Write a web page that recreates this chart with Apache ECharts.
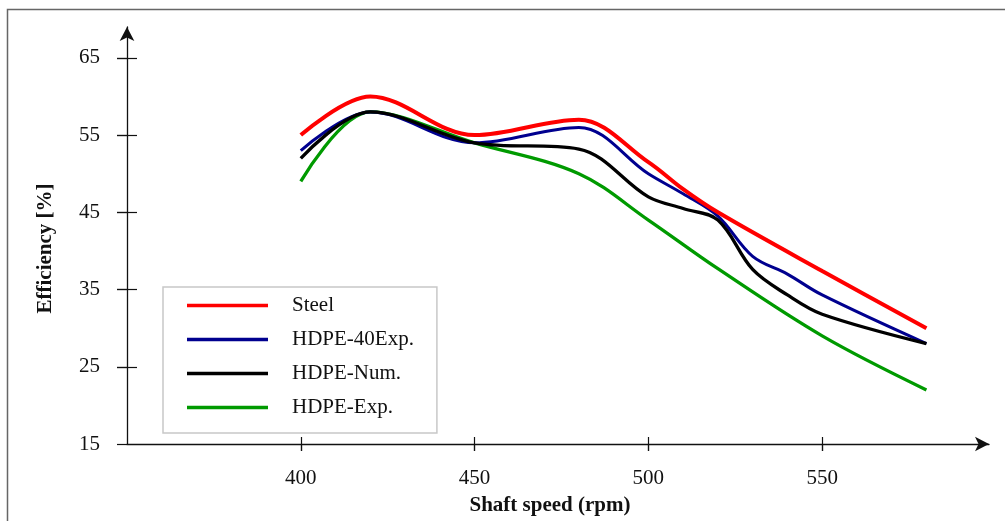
<!DOCTYPE html>
<html>
<head>
<meta charset="utf-8">
<script src="https://cdn.jsdelivr.net/npm/echarts@6/dist/echarts.min.js"></script>
<style>
  html, body { margin: 0; padding: 0; background: #fff; }
  #chart { width: 1005px; height: 521px; }
</style>
</head>
<body>
<div id="chart"></div>
<script>
// values
const steelRpm = [400, 420, 450, 480, 500, 510, 520, 550, 580];
const steelEff = [55, 60, 55, 57, 51.5, 48, 45, 37.4, 30];

const hdpe40Rpm = [400, 420, 450, 480, 500, 510, 520, 530, 540, 550, 580];
const hdpe40Eff = [53, 58, 54, 56, 50, 47.4, 44.5, 39.3, 37, 34.3, 28];

const hdpeNumRpm = [400, 420, 450, 480, 500, 510, 520, 530, 540, 550, 580];
const hdpeNumEff = [52, 58, 54, 53.2, 47, 45.5, 44, 37.6, 34.3, 31.8, 28];

const hdpeExpRpm = [400, 420, 450, 480, 500, 520, 550, 580];
const hdpeExpEff = [49, 58, 54, 50, 44, 37.7, 29, 22];

const xTicks = [400, 450, 500, 550];
const yTicks = [15, 25, 35, 45, 55, 65];

const font = '"Liberation Serif", "Times New Roman", serif';

function pairs(xs, ys) {
  return xs.map((x, i) => [x, ys[i]]);
}

const chart = echarts.init(document.getElementById('chart'));

const tickStyle = { color: '#111', width: 1.2 };

chart.setOption({
  animation: false,
  textStyle: { fontFamily: font },
  graphic: [
    {
      type: 'rect',
      shape: { x: 7.5, y: 9.5, width: 1010, height: 600 },
      style: { fill: 'none', stroke: '#666', lineWidth: 1.5 },
      silent: true
    }
  ],
  grid: { left: 127, right: 16, top: 27, bottom: 74 },
  legend: {
    orient: 'vertical',
    left: 163,
    top: 287,
    padding: [8, 23, 15, 24],
    icon: 'rect',
    itemWidth: 81,
    itemHeight: 3.6,
    itemGap: 13,
    borderColor: '#c8c8c8',
    borderWidth: 1.5,
    textStyle: { fontFamily: font, fontSize: 21, color: '#111', padding: [0, 0, 0, 19] },
    data: ['Steel', 'HDPE-40Exp.', 'HDPE-Num.', 'HDPE-Exp.']
  },
  xAxis: [
    {
      type: 'value',
      min: 350,
      max: 598,
      position: 'bottom',
      name: 'Shaft speed (rpm)',
      nameLocation: 'middle',
      nameGap: 51,
      nameTextStyle: { fontFamily: font, fontSize: 21, fontWeight: 'bold', color: '#111', padding: [0, 16, 0, 0] },
      splitLine: { show: false },
      axisLine: {
        show: true,
        onZero: false,
        symbol: ['none', 'arrow'],
        symbolSize: [11, 14],
        lineStyle: { color: '#111', width: 1.3 }
      },
      axisTick: { show: true, inside: false, length: 7, customValues: xTicks, lineStyle: tickStyle },
      axisLabel: { customValues: xTicks, margin: 24, fontFamily: font, fontSize: 21, color: '#111' }
    },
    {
      // tick-only copy shifted up so the ticks cross the axis line
      type: 'value',
      min: 350,
      max: 598,
      position: 'bottom',
      offset: -7,
      splitLine: { show: false },
      axisLine: { show: false, onZero: false },
      axisTick: { show: true, inside: false, length: 14, customValues: xTicks, lineStyle: tickStyle },
      axisLabel: { show: false }
    }
  ],
  yAxis: [
    {
      type: 'value',
      min: 15,
      max: 69,
      position: 'left',
      name: 'Efficiency [%]',
      nameLocation: 'middle',
      nameGap: 71,
      nameTextStyle: { fontFamily: font, fontSize: 21, fontWeight: 'bold', color: '#111', padding: [0, 26, 0, 0] },
      splitLine: { show: false },
      axisLine: {
        show: true,
        onZero: false,
        symbol: ['none', 'arrow'],
        symbolSize: [11, 14],
        lineStyle: { color: '#111', width: 1.3 }
      },
      axisTick: { show: true, inside: false, length: 10, customValues: yTicks, lineStyle: tickStyle },
      axisLabel: { customValues: yTicks, margin: 27, fontFamily: font, fontSize: 21, color: '#111' }
    },
    {
      // tick-only copy shifted right so the ticks cross the axis line
      type: 'value',
      min: 15,
      max: 69,
      position: 'left',
      offset: -10,
      splitLine: { show: false },
      axisLine: { show: false, onZero: false },
      axisTick: { show: true, inside: false, length: 20, customValues: yTicks.slice(1), lineStyle: tickStyle },
      axisLabel: { show: false }
    }
  ],
  series: [
    {
      name: 'Steel',
      type: 'line',
      smooth: 0.35,
      symbol: 'none',
      color: '#ff0000',
      lineStyle: { width: 4, color: '#ff0000' },
      data: pairs(steelRpm, steelEff),
      z: 5
    },
    {
      name: 'HDPE-40Exp.',
      type: 'line',
      smooth: 0.35,
      symbol: 'none',
      color: '#00008f',
      lineStyle: { width: 3, color: '#00008f' },
      data: pairs(hdpe40Rpm, hdpe40Eff),
      z: 4
    },
    {
      name: 'HDPE-Num.',
      type: 'line',
      smooth: 0.35,
      symbol: 'none',
      color: '#000000',
      lineStyle: { width: 3.3, color: '#000000' },
      data: pairs(hdpeNumRpm, hdpeNumEff),
      z: 6
    },
    {
      name: 'HDPE-Exp.',
      type: 'line',
      smooth: 0.35,
      symbol: 'none',
      color: '#009a00',
      lineStyle: { width: 3.3, color: '#009a00' },
      data: pairs(hdpeExpRpm, hdpeExpEff),
      z: 3
    }
  ]
});
</script>
</body>
</html>
